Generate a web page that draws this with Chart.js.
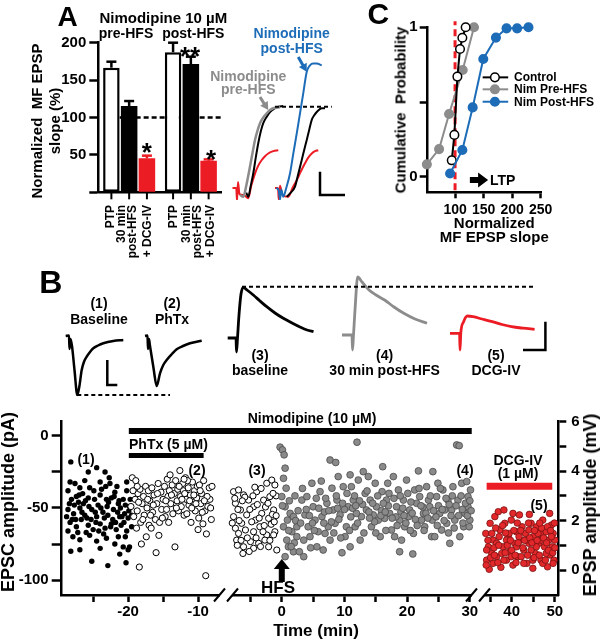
<!DOCTYPE html>
<html>
<head>
<meta charset="utf-8">
<script src="https://cdn.jsdelivr.net/npm/chart.js@4.4.1/dist/chart.umd.min.js"></script>
<style>
  html, body { margin: 0; padding: 0; background: #fff; }
  #fig { position: relative; width: 603px; height: 640px; overflow: hidden; }
  #fig canvas { position: absolute; }
  .lbl { position: absolute; white-space: nowrap; font-family: "Liberation Sans", Arial, sans-serif;
         font-weight: bold; color: #000; text-align: center; }
</style>
</head>
<body>
<div id="fig">
  <canvas id="barA"   width="225" height="275" style="left:0;top:0"></canvas>
  <canvas id="traceA" width="140" height="200" style="left:225px;top:0"></canvas>
  <canvas id="cumC"   width="243" height="260" style="left:360px;top:0"></canvas>
  <canvas id="traceB" width="603" height="140" style="left:0;top:270px"></canvas>
  <canvas id="timeB"  width="603" height="240" style="left:0;top:400px"></canvas>
</div>
<script>
"use strict";

// ── Panel A: normalized MF EPSP slope (%) ─────────────────
const groups      = ["pre-HFS", "post-HFS"];
const conditions  = ["PTP", "30 min<br>post-HFS", "+ DCG-IV"];
const ptpMean     = [166.6, 187.2];
const ptpSem      = [8.0, 12.8];
const post30Mean  = [115.4, 171.5];
const post30Sem   = [6.6, 9.8];
const dcgMean     = [45.4, 42.2];
const dcgSem      = [3.6, 1.8];
const barTicksA   = [0, 25, 50, 75, 100, 125, 150, 175, 200];

// ── Panel A: example EPSPs [ms, mV] ───────────────────────
const aPreGray   = [[0.6,0.0],[0.73,-0.04],[0.85,0.2],[1.0,0.61],[1.1,0.9],[1.2,1.18],[1.3,1.38],[1.4,1.54],[1.53,1.66],[1.67,1.75],[1.8,1.82],[1.93,1.86],[2.2,1.88]];
const aPreBlack  = [[0.85,0.05],[0.93,-0.04],[1.03,0.2],[1.13,0.46],[1.23,0.8],[1.33,1.11],[1.43,1.36],[1.53,1.54],[1.67,1.68],[1.8,1.78],[1.97,1.85],[2.13,1.89],[2.33,1.91]];
const aPreRed    = [[0.3,0.15],[0.45,0.15],[0.48,-0.12],[0.52,0.28],[0.58,0.02],[0.75,0.0],[0.93,-0.07],[1.05,0.2],[1.2,0.46],[1.33,0.63],[1.47,0.75],[1.6,0.83],[1.73,0.89],[1.93,0.94],[2.13,0.96]];
const aPostBlue  = [[2.05,0.15],[2.15,0.1],[2.2,-0.1],[2.25,0.12],[2.33,-0.04],[2.45,0.15],[2.6,0.46],[2.73,0.88],[2.87,1.32],[3.0,1.75],[3.13,2.18],[3.27,2.64],[3.4,2.78],[3.53,2.82],[3.67,2.82],[3.87,2.78]];
const aPostBlack = [[2.47,-0.04],[2.63,0.05],[2.8,0.18],[2.93,0.45],[3.07,0.75],[3.17,0.97],[3.27,1.18],[3.37,1.4],[3.47,1.61],[3.57,1.71],[3.67,1.78],[3.87,1.86],[4.0,1.86]];
const aPostRed   = [[2.0,0.15],[2.12,0.15],[2.15,-0.1],[2.2,0.2],[2.3,0.0],[2.53,-0.04],[2.7,0.15],[2.87,0.32],[3.03,0.5],[3.2,0.68],[3.33,0.8],[3.47,0.89],[3.6,0.94],[3.73,0.96]];

// ── Panel C: cumulative probability ───────────────────────
const ctrlSlope = [94.2, 98.8, 104.1, 108.7, 112.8, 118.6];
const ctrlProb  = [0.11, 0.28, 0.67, 0.855, 0.93, 1.0];
const preSlope  = [50.5, 72.0, 89.5, 113.4, 133.2];
const preProb   = [0.083, 0.185, 0.42, 0.714, 1.0];
const postSlope = [91.3, 112.8, 130.9, 149.5, 171.7, 190.3, 208.9, 228.8];
const postProb  = [0.022, 0.179, 0.464, 0.788, 0.931, 0.993, 0.993, 1.0];
const slopeTicks = [100, 150, 200, 250];
const probTicks  = [0, 0.5, 1];

// ── Panel B: example traces [ms, a.u.] ────────────────────
const bEpscBase = [[6.57,0.4],[6.9,0.45],[6.95,-0.9],[7.05,0.1],[7.2,-0.6],[7.45,-3.0],[7.73,-5.5],[7.93,-4.67],[8.17,-3.0],[8.4,-2.17],[8.67,-1.67],[9.0,-1.2],[9.33,-0.83],[9.8,-0.55],[10.33,-0.33],[11.33,-0.1],[12.33,0]];
const bEpscPhtx = [[14.5,0.4],[14.75,0.45],[14.8,-0.9],[14.9,0.1],[15.0,-0.6],[15.35,-2.8],[15.67,-4.6],[16.0,-3.33],[16.33,-2.5],[16.67,-2.0],[17.2,-1.4],[17.67,-0.93],[18.3,-0.6],[19.0,-0.33],[20.17,-0.07]];
const bEpspBase = [[22.77,0.2],[23.6,0.2],[23.65,-1.2],[23.75,0.2],[23.9,2.5],[24.1,4.6],[24.33,5.27],[24.7,5.0],[25.33,4.5],[26.0,3.9],[26.67,3.33],[27.5,2.7],[28.33,2.17],[29.2,1.7],[30.0,1.3],[30.7,1.0],[31.35,0.83]];
const bEpspPost = [[34.2,0.5],[35.2,0.5],[35.25,-1.0],[35.35,0.5],[35.5,3.0],[35.77,6.3],[36.2,5.8],[36.9,5.0],[37.6,4.5],[38.46,4.0],[39.4,3.3],[40.38,2.67],[41.5,2.1],[42.7,1.67]];
const bEpspDcg  = [[45.0,0.67],[45.96,0.67],[46.0,-1.0],[46.08,0.7],[46.35,1.8],[46.73,2.4],[47.3,2.33],[48.2,2.1],[49.23,1.83],[50.2,1.55],[51.15,1.33],[52.3,1.18],[53.46,1.07]];

// ── Panel B: time course [min, pA] and [min, mV] ──────────
const epscBaseline = [[-28.2,-18],[-25.7,-25],[-24.5,-22],[-23.3,-25],[-28.3,-32],[-27.6,-33],[-26.9,-36],[-28.6,-38],[-26.2,-31],[-25.5,-36],[-24.0,-32],[-22.6,-33],[-21.9,-39],[-20.2,-38],[-28.1,-44],[-27.4,-42],[-26.4,-47],[-25.7,-43],[-24.8,-44],[-24.0,-41],[-23.1,-44],[-22.4,-43],[-21.4,-47],[-20.7,-44],[-19.8,-49],[-28.6,-51],[-27.8,-54],[-26.9,-50],[-26.2,-55],[-25.2,-51],[-24.5,-56],[-23.6,-53],[-22.9,-55],[-22.1,-51],[-21.2,-56],[-20.5,-54],[-20.0,-57],[-28.3,-60],[-27.4,-63],[-26.7,-58],[-25.7,-62],[-25.0,-65],[-24.0,-61],[-23.3,-64],[-22.4,-61],[-21.7,-65],[-21.0,-62],[-20.2,-66],[-28.6,-66],[-27.9,-70],[-26.9,-72],[-25.5,-69],[-24.5,-73],[-23.1,-71],[-21.9,-75],[-20.7,-77],[-20.0,-79],[-28.2,-80],[-26.9,-79],[-25.2,-87],[-22.9,-90],[-20.3,-88],[-21.2,-82],[-24.0,-78],[-19.8,-77],[-19.5,-63],[-19.5,-55],[-19.7,-44],[-20.2,-32],[-27.1,-46],[-26.5,-40],[-25.9,-57],[-24.3,-48],[-23.8,-37],[-23.0,-49],[-22.2,-58],[-21.6,-35],[-21.1,-50],[-20.6,-60],[-27.7,-48],[-28.8,-56],[-26.0,-67],[-23.5,-68],[-22.7,-29],[-24.7,-53],[-21.4,-70],[-20.4,-48],
  [-28.4,-47],[-27.5,-58],[-27.0,-41],[-26.6,-53],[-26.1,-45],[-25.6,-49],[-25.3,-58],[-24.9,-38],[-24.2,-66],[-23.9,-50],[-23.4,-57],[-22.8,-46],[-22.5,-63],[-22.0,-42],[-21.5,-53],[-21.3,-45],[-20.9,-56],[-20.4,-70],[-19.9,-52],[-28.0,-58],[-27.2,-67],[-24.6,-60],[-23.2,-35],[-21.8,-60]];
const epscPhtx = [[-19.6,-49],[-19.4,-29],[-19.2,-56],[-19.0,-44],[-18.9,-31],[-18.8,-64],[-18.7,-52],[-18.6,-40],[-18.4,-91],[-18.3,-37],[-18.2,-60],[-18.1,-75],[-18.0,-47],[-17.8,-42],[-17.7,-55],[-17.5,-35],[-17.4,-70],[-17.3,-50],[-17.1,-38],[-17.0,-62],[-16.9,-45],[-16.7,-64],[-16.6,-36],[-16.5,-53],[-16.3,-41],[-16.1,-58],[-16.0,-81],[-15.9,-47],[-15.7,-33],[-15.6,-69],[-15.5,-60],[-15.3,-39],[-15.2,-51],[-15.0,-44],[-14.8,-35],[-14.7,-56],[-14.5,-51],[-14.4,-30],[-14.3,-42],[-14.1,-38],[-14.0,-27],[-13.9,-47],[-13.7,-34],[-13.6,-54],[-13.4,-40],[-13.3,-77],[-13.2,-31],[-13.0,-45],[-12.9,-37],[-12.8,-52],[-12.6,-24],[-12.5,-42],[-12.4,-49],[-12.2,-33],[-12.1,-38],[-12.0,-55],[-11.8,-29],[-11.7,-44],[-11.6,-54],[-11.4,-36],[-11.3,-48],[-11.1,-41],[-11.0,-60],[-10.8,-32],[-10.7,-46],[-10.5,-38],[-10.4,-52],[-10.2,-43],[-10.1,-35],[-9.9,-57],[-9.8,-34],[-9.6,-47],[-9.5,-40],[-9.3,-61],[-9.2,-31],[-9.0,-52],[-8.9,-97],[-8.8,-68],[-8.6,-49],[-8.4,-36],[-8.3,-44],[-8.1,-58],[-8.0,-35],
  [-19.3,-38],[-18.5,-46],[-17.9,-58],[-17.2,-44],[-16.4,-48],[-15.8,-40],[-15.1,-57],[-14.6,-45],[-13.8,-41],[-13.1,-50],[-12.7,-35],[-12.3,-44],[-11.9,-40],[-11.5,-31],[-11.2,-45],[-10.9,-50],[-10.6,-41],[-10.3,-47],[-9.7,-38],[-9.4,-53],[-8.7,-42],[-8.2,-50],[-18.7,-35],[-16.8,-55],[-14.2,-60],[-12.0,-30],[-10.0,-65],[-9.1,-45]];
const epspBaseline = [[-7.7,3.17],[-6.9,3.24],[-6.1,3.04],[-4.0,3.17],[-2.4,3.51],[-1.6,3.64],[-1.1,3.44],[-7.4,2.70],[-6.6,2.43],[-5.3,2.83],[-4.5,2.56],[-2.9,2.83],[-1.9,2.97],[-7.7,2.16],[-6.4,1.89],[-5.6,2.23],[-4.2,2.02],[-3.2,2.29],[-2.1,2.09],[-1.3,2.43],[-7.4,1.69],[-6.9,1.48],[-5.8,1.62],[-4.5,1.55],[-3.5,1.75],[-2.4,1.42],[-1.1,1.55],[-7.2,1.21],[-6.1,0.94],[-5.0,1.15],[-3.7,1.08],[-2.7,1.21],[-1.3,1.42],[-6.2,0.67],[-4.5,0.88],[-2.1,0.94],[-0.8,0.81],[-7.0,2.45],[-5.9,2.95],[-4.8,1.95],[-3.9,2.65],[-3.0,1.55],[-2.6,2.55],[-1.7,1.85],[-0.9,3.0],[-6.5,1.2],[-5.2,0.75],[-3.4,0.95],[-7.9,1.9],[-4.3,3.35],[-1.4,3.1],
  [-7.5,2.9],[-6.8,2.0],[-6.3,2.8],[-5.5,1.3],[-5.1,2.45],[-4.6,3.0],[-4.1,1.3],[-3.6,2.1],[-3.3,3.3],[-2.8,1.8],[-2.2,2.7],[-1.9,1.2],[-1.5,2.25],[-1.2,1.95],[-0.9,2.2],[-7.1,1.0]];
const epspPostHfs = [[-0.27,4.97],[0.1,4.86],[0.37,4.66],[0.53,4.12],[0.27,3.71],[0.69,3.31],[0.0,2.97],[0.53,2.56],[1.33,2.29],[0.9,2.02],[1.86,2.16],[0.27,1.75],[1.6,1.55],[0.8,1.21],[2.4,1.35],[1.06,0.94],[1.86,0.74],[2.8,0.74],[0.53,0.54],[2.4,1.75],[0.1,2.6],[1.1,1.6],[2.0,1.1],[2.2,2.0],[1.5,0.95],
  [3.2,2.83],[3.7,2.23],[4.2,1.75],[3.5,1.21],[3.5,0.54],[4.8,3.51],[5.0,2.56],[5.3,2.02],[4.5,1.35],[5.6,0.94],[4.0,2.97],
  [6.1,3.17],[6.6,0.81],[7.2,2.70],[6.4,2.16],[7.7,4.45],[8.6,4.35],[7.4,1.75],[8.0,3.31],[6.9,1.48],[8.2,2.43],[5.8,1.55],[7.7,1.21],
  [8.8,2.83],[9.3,2.23],[9.6,0.70],[9.8,3.37],[10.3,1.75],[9.0,3.78],[10.6,2.56],[10.1,1.35],[10.9,3.85],[8.5,1.89],[10.9,0.94],
  [12.0,5.17],[11.4,2.83],[12.2,3.64],[12.7,2.16],[13.0,3.98],[11.7,1.75],[13.3,3.10],[12.5,1.21],[13.5,2.43],[11.1,3.37],[11.9,2.29],
  [14.1,2.83],[14.9,3.51],[15.4,2.02],[16.1,4.18],[15.7,1.35],[14.3,1.75],[15.1,2.56],[13.8,3.78],[16.0,3.17],[14.6,2.23],
  [16.7,2.83],[17.2,2.29],[17.8,3.78],[16.9,3.51],[18.3,2.56],[18.8,0.74],[17.5,1.62],[18.6,3.24],[16.4,2.09],[18.0,1.35],[18.8,2.02],
  [19.4,2.83],[19.9,3.64],[20.9,0.65],[20.4,2.43],[21.2,3.24],[19.6,1.75],[21.0,1.48],[20.2,2.16],[21.5,2.70],[19.1,1.21],
  [21.8,4.01],[22.0,2.97],[22.6,2.29],[23.1,3.37],[23.6,2.56],[24.1,3.98],[22.8,1.75],[23.9,1.35],[22.3,2.02],[23.4,2.83],[24.0,2.02],
  [24.7,2.97],[25.2,2.29],[25.7,3.24],[26.3,1.89],[26.8,1.08],[24.9,3.51],[25.5,1.62],[26.5,2.83],[26.0,2.43],[24.4,1.35],
  [27.9,5.06],[28.3,5.03],[27.3,3.37],[28.1,2.83],[28.7,3.51],[29.2,2.29],[29.7,2.97],[30.0,2.02],[27.6,2.02],[29.0,1.75],[29.5,3.58],[28.4,1.35],[27.1,2.43],[30.1,3.24],[29.7,2.56],
  [3.9,2.45],[6.8,2.35],[9.1,2.05],[11.0,2.15],[12.9,2.65],[14.8,1.95],[17.0,2.6],[19.0,2.35],[21.3,2.05],[23.0,2.3],[25.0,2.6],[27.0,2.2],[28.8,2.45],[5.5,2.9],[7.9,1.95],[10.0,2.45],[13.9,2.35],[15.9,2.4],[18.2,2.15],[20.6,2.75],[22.5,2.55],[24.6,2.15],[26.7,2.65],[29.9,1.75],
  [3.0,1.9],[3.3,3.3],[4.4,2.2],[4.6,0.9],[5.2,1.6],[5.9,2.5],[6.3,3.6],[6.7,1.9],[7.0,2.9],[7.5,2.4],[8.3,1.5],[8.7,3.0],[9.4,1.3],[9.7,2.7],[10.4,3.1],[10.8,1.6],[11.3,2.5],[11.6,3.0],[12.1,1.9],[12.4,2.8],[13.1,1.5],[13.6,3.2],[14.0,2.1],[14.5,2.7],[15.0,1.5],[15.3,3.0],[15.8,2.2],[16.2,2.7],[16.6,1.6],[17.1,3.1],[17.6,2.1],[17.9,2.9],[18.4,1.8],[18.9,3.0],[19.3,2.5],[19.8,1.9],[20.1,3.1],[20.5,1.6],[20.8,2.3],[21.6,1.8],[21.9,3.3],[22.2,2.6],[22.7,1.6],[23.3,2.1],[23.7,3.0],[24.2,2.4],[24.8,1.8],[25.3,3.3],[25.9,2.0],[26.2,2.9],[26.6,1.5],[27.2,3.0],[27.5,1.7],[27.8,2.6],[28.2,2.2],[28.6,3.0],[28.9,1.9],[29.3,2.7],[29.6,2.2],[30.0,2.8],[30.2,2.4],[1.2,2.8],[2.6,2.4],[2.1,3.0],[4.9,1.9],[8.9,2.5],[11.8,2.6],[16.5,2.35],[19.5,2.2],[25.6,2.45]];
const epspDcg = [[34.8,0.03],[34.2,0.40],[34.6,0.94],[34.0,1.48],[35.0,1.89],[35.4,0.67],[35.7,1.21],[36.1,2.16],[36.9,2.36],[36.5,0.54],[37.3,1.62],[37.5,0.11],[38.0,0.94],[38.2,2.43],[38.4,1.89],[38.8,0.40],[39.2,1.35],[39.5,0.74],[39.9,2.02],[40.3,2.29],[40.7,1.08],[41.1,1.55],[41.4,0.54],[41.8,2.23],[42.0,1.21],[42.4,1.75],[42.8,0.81],[43.2,1.48],[43.5,0.27],[44.0,1.08],[44.1,2.25],[44.5,1.89],[44.9,0.07],[45.0,1.35],[45.5,0.67],[45.8,1.75],[46.3,1.08],[46.6,1.48],[46.8,0.40],[47.2,2.02],[47.6,0.94],[48.0,1.55],[48.3,0.13],[48.6,1.21],[48.8,2.29],[48.9,0.61],[49.2,1.82],[49.4,0.94],[49.6,1.48],[49.8,0.40],[50.0,1.21],
  [35.4,1.48],[36.5,1.08],[37.7,0.67],[38.8,1.21],[39.9,0.54],[41.1,0.94],[42.2,0.54],[43.4,1.21],[44.5,0.81],[45.7,0.94],[46.8,1.21],[48.0,0.67],[49.2,1.35],[34.2,0.81],[37.1,1.35],[39.4,1.48],[41.7,1.35],[44.0,1.62],[46.1,1.48],[48.3,1.75],[35.7,0.27],[40.3,0.20],[44.9,0.40],[49.6,0.27],[38.2,0.40],[42.8,0.27],[47.2,0.27],
  [34.5,1.2],[35.1,0.5],[35.9,0.9],[36.3,1.7],[36.8,0.3],[37.0,1.0],[37.9,1.8],[38.5,0.7],[39.0,1.0],[39.7,1.2],[40.0,0.8],[40.5,1.6],[41.0,0.3],[41.5,1.1],[42.1,1.6],[42.6,0.9],[43.0,1.2],[43.7,0.6],[44.2,1.3],[44.7,1.1],[45.2,0.5],[45.9,1.2],[46.4,0.6],[46.9,1.7],[47.4,1.3],[47.8,0.4],[48.1,1.1],[48.5,0.8],[49.0,1.6],[49.5,0.7],[50.0,0.9],[34.1,0.2],[36.0,0.6],[38.6,1.5],[41.3,1.9],[43.9,1.9],[46.5,1.9],[49.9,1.9],[40.8,0.6],[45.3,1.6]];
const drugNimodipine = [-19.9, 30.3];
const drugPhtx       = [-19.9, -9.2];
const drugDcg        = [34.2, 49.4];
const x1Ticks   = [-25, -20, -15, -10];
const x2Ticks   = [-5, 0, 5, 10, 15, 20, 25, 30];
const x3Ticks   = [35, 40, 45, 50];
const epscTicks = [-100, -75, -50, -25, 0];
const epspTicks = [0, 1, 2, 3, 4, 5, 6];

// ── Styling ───────────────────────────────────────────────
const RED  = "#ec1c24";
const BLUE = "#1d6cb8";
const GRAY = "#8c8c8c";
const fig  = document.getElementById("fig");

Chart.defaults.font.family = '"Liberation Sans", Arial, sans-serif';
Chart.defaults.font.weight = "bold";
Chart.defaults.color = "#000";
Chart.defaults.animation = false;
Chart.defaults.responsive = false;
Chart.defaults.plugins.legend.display = false;
Chart.defaults.plugins.tooltip.enabled = false;

// ── Helpers ───────────────────────────────────────────────
const xy = pairs => pairs.map(p => ({ x: p[0], y: p[1] }));

function at(chart, p) {
  // p = [xScaleId, xValue, yScaleId, yValue]
  return [chart.scales[p[0]].getPixelForValue(p[1]), chart.scales[p[2]].getPixelForValue(p[3])];
}

function strokePath(ctx, pts, color, width, dash) {
  ctx.save();
  ctx.strokeStyle = color;
  ctx.lineWidth = width;
  ctx.setLineDash(dash || []);
  ctx.beginPath();
  pts.forEach((p, i) => (i ? ctx.lineTo(p[0], p[1]) : ctx.moveTo(p[0], p[1])));
  ctx.stroke();
  ctx.restore();
}

function fillArrow(ctx, a, b, color, shaft, headLen, headW) {
  const ang = Math.atan2(b[1] - a[1], b[0] - a[0]);
  const len = Math.hypot(b[0] - a[0], b[1] - a[1]);
  ctx.save();
  ctx.translate(a[0], a[1]);
  ctx.rotate(ang);
  ctx.fillStyle = color;
  ctx.beginPath();
  ctx.moveTo(0, -shaft / 2);
  ctx.lineTo(len - headLen, -shaft / 2);
  ctx.lineTo(len - headLen, -headW / 2);
  ctx.lineTo(len, 0);
  ctx.lineTo(len - headLen, headW / 2);
  ctx.lineTo(len - headLen, shaft / 2);
  ctx.lineTo(0, shaft / 2);
  ctx.closePath();
  ctx.fill();
  ctx.restore();
}

function axisBreak(ctx, scale) {
  const x = scale.right, y = scale.top;
  ctx.save();
  ctx.fillStyle = "#fff";
  ctx.fillRect(x - 6, y - 3, 12, 6);
  ctx.restore();
  [-6.5, 6.5].forEach(dx => strokePath(ctx, [[x + dx - 5.5, y + 6.5], [x + dx + 5.5, y - 6.5]], "#000", 2));
}

function drawItems(chart, items) {
  const ctx = chart.ctx;
  items.forEach(it => {
    if (it.kind === "path") {
      strokePath(ctx, it.pts.map(p => at(chart, p)), it.color || "#000", it.width || 2, it.dash);
    } else if (it.kind === "arrow") {
      fillArrow(ctx, at(chart, it.from), at(chart, it.to), it.color || "#000", it.shaft, it.head, it.headW);
    } else if (it.kind === "dot") {
      const [x, y] = at(chart, it.p);
      ctx.save();
      ctx.beginPath();
      ctx.arc(x, y, it.r, 0, Math.PI * 2);
      ctx.fillStyle = it.fill;
      ctx.fill();
      ctx.lineWidth = 1.5;
      ctx.strokeStyle = it.stroke;
      ctx.stroke();
      ctx.restore();
    } else if (it.kind === "break") {
      axisBreak(ctx, chart.scales[it.scale]);
    }
  });
}

function overlay(under, over) {
  return {
    id: "overlay",
    beforeDatasetsDraw(chart) { drawItems(chart, under); },
    afterDraw(chart) { drawItems(chart, over); },
  };
}

function trace(pairs, color, width) {
  return {
    data: xy(pairs), showLine: true, borderColor: color, borderWidth: width || 2,
    pointRadius: 0, cubicInterpolationMode: "monotone", clip: false,
  };
}

function fixedTicks(values) {
  return scale => { scale.ticks = values.map(v => ({ value: v })); };
}

function txt(html, x, y, o = {}) {
  const d = document.createElement("div");
  const size = o.size || 14;
  d.className = "lbl";
  d.innerHTML = html;
  d.style.fontSize = size + "px";
  d.style.lineHeight = (o.lh || size) + "px";
  d.style.left = x + "px";
  d.style.top = y + "px";
  if (o.color) d.style.color = o.color;
  if (o.w) { d.style.width = o.w + "px"; d.style.textAlign = o.ta || "center"; }
  d.style.transform = (o.align === "left" ? "translate(0,-50%)" : "translate(-50%,-50%)") +
                      (o.rot ? ` rotate(${o.rot}deg)` : "");
  fig.appendChild(d);
}

const axisLine = { color: "#000", width: 2.5 };

// ── Panel A: bar chart ────────────────────────────────────
const barDecor = {
  id: "barDecor",
  beforeDatasetsDraw(chart) {
    const y = chart.scales.y, area = chart.chartArea;
    const first = chart.getDatasetMeta(0).data[0];
    const y100 = y.getPixelForValue(100);
    strokePath(chart.ctx, [[first.x + first.width / 2, y100], [area.right, y100]], "#000", 2.5, [5, 3]);
  },
  afterDatasetsDraw(chart) {
    const ctx = chart.ctx, y = chart.scales.y, area = chart.chartArea;
    const sems = [ptpSem, post30Sem, dcgSem];
    chart.data.datasets.forEach((ds, i) => {
      chart.getDatasetMeta(i).data.forEach((bar, j) => {
        const top = y.getPixelForValue(ds.data[j] + sems[i][j]);
        strokePath(ctx, [[bar.x, bar.y], [bar.x, top]], ds.errColor, 2.5);
        strokePath(ctx, [[bar.x - 5, top], [bar.x + 5, top]], ds.errColor, 2.5);
        strokePath(ctx, [[bar.x, area.bottom], [bar.x, area.bottom + 7]], "#000", 2);
      });
    });
  },
};

new Chart(document.getElementById("barA"), {
  type: "bar",
  data: {
    labels: groups,
    datasets: [
      { data: ptpMean,    backgroundColor: "#fff", borderColor: "#000", borderWidth: 2.5, borderSkipped: false, errColor: "#000" },
      { data: post30Mean, backgroundColor: "#000", borderWidth: 0, errColor: "#000" },
      { data: dcgMean,    backgroundColor: RED,    borderWidth: 0, errColor: RED },
    ],
  },
  options: {
    layout: { padding: { top: 42.7, right: 3.3, left: 0, bottom: 0 } },
    datasets: { bar: { categoryPercentage: 0.864, barPercentage: 0.93 } },
    scales: {
      x: {
        grid: { display: false }, ticks: { display: false }, border: axisLine,
        afterFit: s => { s.height = 82.7; },
      },
      y: {
        min: 0, max: 200,
        afterBuildTicks: fixedTicks(barTicksA),
        ticks: { font: { size: 15 }, padding: 3, callback: v => (v > 0 && v % 50 === 0 ? v : "") },
        grid: { drawOnChartArea: false, tickLength: 9, tickWidth: 2.5, tickColor: "#000" },
        border: axisLine,
        afterFit: s => { s.width = 98.3; },
      },
    },
  },
  plugins: [barDecor],
});

// ── Panel A: EPSP traces ──────────────────────────────────
new Chart(document.getElementById("traceA"), {
  type: "scatter",
  data: {
    datasets: [
      trace(aPostBlue, BLUE), trace(aPostBlack, "#000"), trace(aPostRed, RED),
      trace(aPreGray, GRAY, 2.5), trace(aPreBlack, "#000"), trace(aPreRed, RED),
    ],
  },
  options: {
    layout: { padding: 0 },
    scales: {
      x: { type: "linear", display: false, min: 0, max: 5.6 },
      y: { type: "linear", display: false, min: -0.107, max: 4.18 },
    },
  },
  plugins: [overlay([], [
    { kind: "path", pts: [["x", 2.0, "y", 1.89], ["x", 4.27, "y", 1.89]], width: 2, dash: [4, 3] },
    { kind: "path", pts: [["x", 3.8, "y", 0.5], ["x", 3.8, "y", 0], ["x", 4.8, "y", 0]], width: 2.5 },
    { kind: "arrow", from: ["x", 1.4, "y", 2.1], to: ["x", 1.73, "y", 1.82], color: GRAY, shaft: 3, head: 8, headW: 9 },
    { kind: "arrow", from: ["x", 2.93, "y", 2.96], to: ["x", 3.27, "y", 2.64], color: BLUE, shaft: 3, head: 8, headW: 9 },
  ])],
});

// ── Panel C: cumulative probability ───────────────────────
const pairUp = (xs, ys) => xs.map((x, i) => [x, ys[i]]);
const cumStyle = (fill, line) => ({
  showLine: true, borderColor: line, borderWidth: 2, pointRadius: 4.3, pointBorderWidth: 1.5,
  pointBackgroundColor: fill, pointBorderColor: line, clip: false,
});

new Chart(document.getElementById("cumC"), {
  type: "scatter",
  data: {
    datasets: [
      { data: xy(pairUp(postSlope, postProb)), ...cumStyle(BLUE, BLUE) },
      { data: xy(pairUp(ctrlSlope, ctrlProb)), ...cumStyle("#fff", "#000") },
      { data: xy(pairUp(preSlope, preProb)),   ...cumStyle(GRAY, GRAY) },
    ],
  },
  options: {
    layout: { padding: { top: 27.3, right: 61.3, left: 0, bottom: 0 } },
    scales: {
      x: {
        type: "linear", min: 52, max: 252,
        afterBuildTicks: fixedTicks(slopeTicks),
        ticks: { font: { size: 14 }, padding: 3, maxRotation: 0, autoSkip: false },
        grid: { drawOnChartArea: false, tickLength: 6, tickWidth: 2.5, tickColor: "#000" },
        border: axisLine,
        afterFit: s => { s.height = 67.7; },
      },
      y: {
        type: "linear", min: -0.104, max: 1,
        afterBuildTicks: fixedTicks(probTicks),
        ticks: { font: { size: 15 }, padding: 2, callback: v => (v === 0.5 ? "" : v) },
        grid: { drawOnChartArea: false, tickLength: 8, tickWidth: 2.5, tickColor: "#000" },
        border: axisLine,
        afterFit: s => { s.width = 67.7; },
      },
    },
  },
  plugins: [overlay([
    { kind: "path", pts: [["x", 100, "y", -0.09], ["x", 100, "y", 1.04]], color: RED, width: 3, dash: [7, 4] },
  ], [
    { kind: "arrow", from: ["x", 126, "y", -0.022], to: ["x", 158, "y", -0.022], shaft: 6, head: 10, headW: 15 },
    { kind: "path", pts: [["x", 148.4, "y", 0.665], ["x", 193.2, "y", 0.665]], color: "#000", width: 2 },
    { kind: "dot", p: ["x", 169.9, "y", 0.665], r: 4.3, fill: "#fff", stroke: "#000" },
    { kind: "path", pts: [["x", 148.4, "y", 0.585], ["x", 193.2, "y", 0.585]], color: GRAY, width: 2 },
    { kind: "dot", p: ["x", 169.9, "y", 0.585], r: 4.3, fill: GRAY, stroke: GRAY },
    { kind: "path", pts: [["x", 148.4, "y", 0.502], ["x", 193.2, "y", 0.502]], color: BLUE, width: 2 },
    { kind: "dot", p: ["x", 169.9, "y", 0.502], r: 4.3, fill: BLUE, stroke: BLUE },
  ])],
});

// ── Panel B: example traces ───────────────────────────────
new Chart(document.getElementById("traceB"), {
  type: "scatter",
  data: {
    datasets: [
      trace(bEpscBase, "#000", 2.5), trace(bEpscPhtx, "#000", 2.5),
      trace(bEpspBase, "#000", 2.8), trace(bEpspPost, GRAY, 2.8), trace(bEpspDcg, RED, 2.8),
    ],
  },
  options: {
    layout: { padding: 0 },
    scales: {
      x: { type: "linear", display: false, min: 0, max: 60.3 },
      y: { type: "linear", display: false, min: -7, max: 7 },
    },
  },
  plugins: [overlay([], [
    { kind: "path", pts: [["x", 7.73, "y", -5.5], ["x", 17.0, "y", -5.5]], width: 2, dash: [4, 3] },
    { kind: "path", pts: [["x", 10.73, "y", -2.0], ["x", 10.73, "y", -4.5], ["x", 11.73, "y", -4.5]], width: 2.5 },
    { kind: "path", pts: [["x", 24.2, "y", 5.33], ["x", 53.5, "y", 5.33]], width: 2, dash: [4, 3] },
    { kind: "path", pts: [["x", 52.3, "y", -1.0], ["x", 54.54, "y", -1.0], ["x", 54.54, "y", 1.83]], width: 2.5 },
  ])],
});

// ── Panel B: time course (broken time axis) ───────────────
function timeAxis(min, max, weight, ticks) {
  return {
    type: "linear", position: "bottom", stack: "time", stackWeight: weight, min, max,
    afterBuildTicks: fixedTicks(ticks),
    ticks: { font: { size: 15 }, padding: 1, maxRotation: 0, autoSkip: false, callback: v => (v % 10 === 0 ? v : "") },
    grid: { drawOnChartArea: false, tickLength: 7, tickWidth: 2.5, tickColor: "#000" },
    border: axisLine,
    afterFit: s => { s.height = 45; },
  };
}

const dot = (pairs, xAxisID, yAxisID, r, fill, stroke, bw) => ({
  data: xy(pairs), xAxisID, yAxisID, pointRadius: r,
  pointBackgroundColor: fill, pointBorderColor: stroke, pointBorderWidth: bw,
});

new Chart(document.getElementById("timeB"), {
  type: "scatter",
  data: {
    datasets: [
      dot(epspDcg,      "x3", "yV", 3.3, "#e3282b", "#7a1111", 0.8),
      dot(epspPostHfs,  "x2", "yV", 3.4, "#8a8a8a", "#4a4a4a", 0.8),
      dot(epspBaseline, "x2", "yV", 3.1, "#fff", "#000", 1),
      dot(epscPhtx,     "x1", "yI", 3.1, "#fff", "#000", 1),
      dot(epscBaseline, "x1", "yI", 2.7, "#000", "#000", 0),
    ],
  },
  options: {
    layout: { padding: { top: 21.7, right: 0, left: 0, bottom: 0 } },
    scales: {
      x1: timeAxis(-29.5, -6.0, 164.3, x1Ticks),
      x2: timeAxis(-8.9, 31.3, 252, x2Ticks),
      x3: timeAxis(32.2, 50.8, 80.3, x3Ticks),
      yI: {
        type: "linear", position: "left", min: -110.4, max: 9.9,
        afterBuildTicks: fixedTicks(epscTicks),
        ticks: { font: { size: 15 }, padding: 3, callback: v => (v % 50 === 0 ? v : "") },
        grid: { drawOnChartArea: false, tickLength: 10, tickWidth: 2.5, tickColor: "#000" },
        border: axisLine,
        afterFit: s => { s.width = 61.7; },
      },
      yV: {
        type: "linear", position: "right", min: -1.01, max: 6,
        afterBuildTicks: fixedTicks(epspTicks),
        ticks: { font: { size: 15 }, padding: 5, callback: v => (v % 2 === 0 ? v : "") },
        grid: { drawOnChartArea: false, tickLength: 8, tickWidth: 2.5, tickColor: "#000" },
        border: axisLine,
        afterFit: s => { s.width = 44.7; },
      },
    },
  },
  plugins: [overlay([], [
    { kind: "path", pts: [["x1", drugNimodipine[0], "yI", 3.5], ["x2", drugNimodipine[1], "yI", 3.5]], width: 6 },
    { kind: "path", pts: [["x1", drugPhtx[0], "yI", -13.5], ["x1", drugPhtx[1], "yI", -13.5]], width: 5 },
    { kind: "path", pts: [["x3", drugDcg[0], "yV", 3.39], ["x3", drugDcg[1], "yV", 3.39]], color: RED, width: 7 },
    { kind: "arrow", from: ["x2", 0, "yI", -101.4], to: ["x2", 0, "yI", -85.4], shaft: 6, head: 10, headW: 16 },
    { kind: "break", scale: "x1" },
    { kind: "break", scale: "x2" },
  ])],
});

// ── Text ──────────────────────────────────────────────────
// Panel A
txt("A", 67.5, 16.7, { size: 28 });
txt("Nimodipine 10 µM", 163.3, 17.3, { size: 15 });
txt(groups[0], 126, 33.3, { size: 14 });
txt(groups[1], 193.3, 33.3, { size: 14 });
txt("Normalized&nbsp;&nbsp;MF EPSP<br>slope (%)", 45.8, 120.5, { size: 15, lh: 18.3, rot: -90 });
[110, 127.2, 146.7, 173.3, 192, 210].forEach((x, i) =>
  txt(conditions[i % 3], x, 235, { size: 12, lh: 11, rot: -90, w: 60, ta: "right" }));
txt("*", 146.7, 152, { size: 26 });
txt("**", 190, 55.5, { size: 26 });
txt("*", 211, 158.8, { size: 26 });
txt("Nimodipine<br>post-HFS", 291.7, 40.8, { size: 14, lh: 15, color: BLUE });
txt("Nimodipine<br>pre-HFS", 248.3, 83, { size: 14, lh: 13, color: GRAY });

// Panel C
txt("C", 378.3, 14.2, { size: 30 });
txt("Cumulative&nbsp;&nbsp;Probability", 400, 110, { size: 15, rot: -90 });
txt("Normalized<br>MF EPSP slope", 494.3, 229.7, { size: 15, lh: 14 });
txt("LTP", 490, 180, { size: 14, align: "left" });
txt("Control", 514, 77.3, { size: 12, align: "left" });
txt("Nim Pre-HFS", 514, 89.3, { size: 12, align: "left" });
txt("Nim Post-HFS", 514, 101.7, { size: 12, align: "left" });

// Panel B traces
txt("B", 50.8, 281.7, { size: 32 });
txt("(1)<br>Baseline", 99, 311.5, { size: 14, lh: 16.7 });
txt("(2)<br>PhTx", 172, 311.5, { size: 14, lh: 16.7 });
txt("(3)<br>baseline", 260, 362.5, { size: 14, lh: 15 });
txt("(4)<br>30 min post-HFS", 384.6, 362.5, { size: 14, lh: 15 });
txt("(5)<br>DCG-IV", 496, 362.5, { size: 14, lh: 15 });

// Panel B time course
txt("Nimodipine (10 µM)", 312, 418, { size: 14 });
txt("PhTx (5 µM)", 129, 444, { size: 14, align: "left" });
txt("(1)", 86, 459);
txt("(2)", 197, 470);
txt("(3)", 257, 470);
txt("(4)", 465, 470);
txt("(5)", 539, 505);
txt("DCG-IV<br>(1 µM)", 518, 466, { size: 14, lh: 12.5 });
txt("HFS", 278, 587, { size: 17 });
txt("EPSC amplitude (pA)", 8, 502, { size: 18, rot: -90 });
txt("EPSP amplitude (mV)", 590, 505, { size: 18, rot: -90 });
txt("Time (min)", 316, 630, { size: 17 });
</script>
</body>
</html>
